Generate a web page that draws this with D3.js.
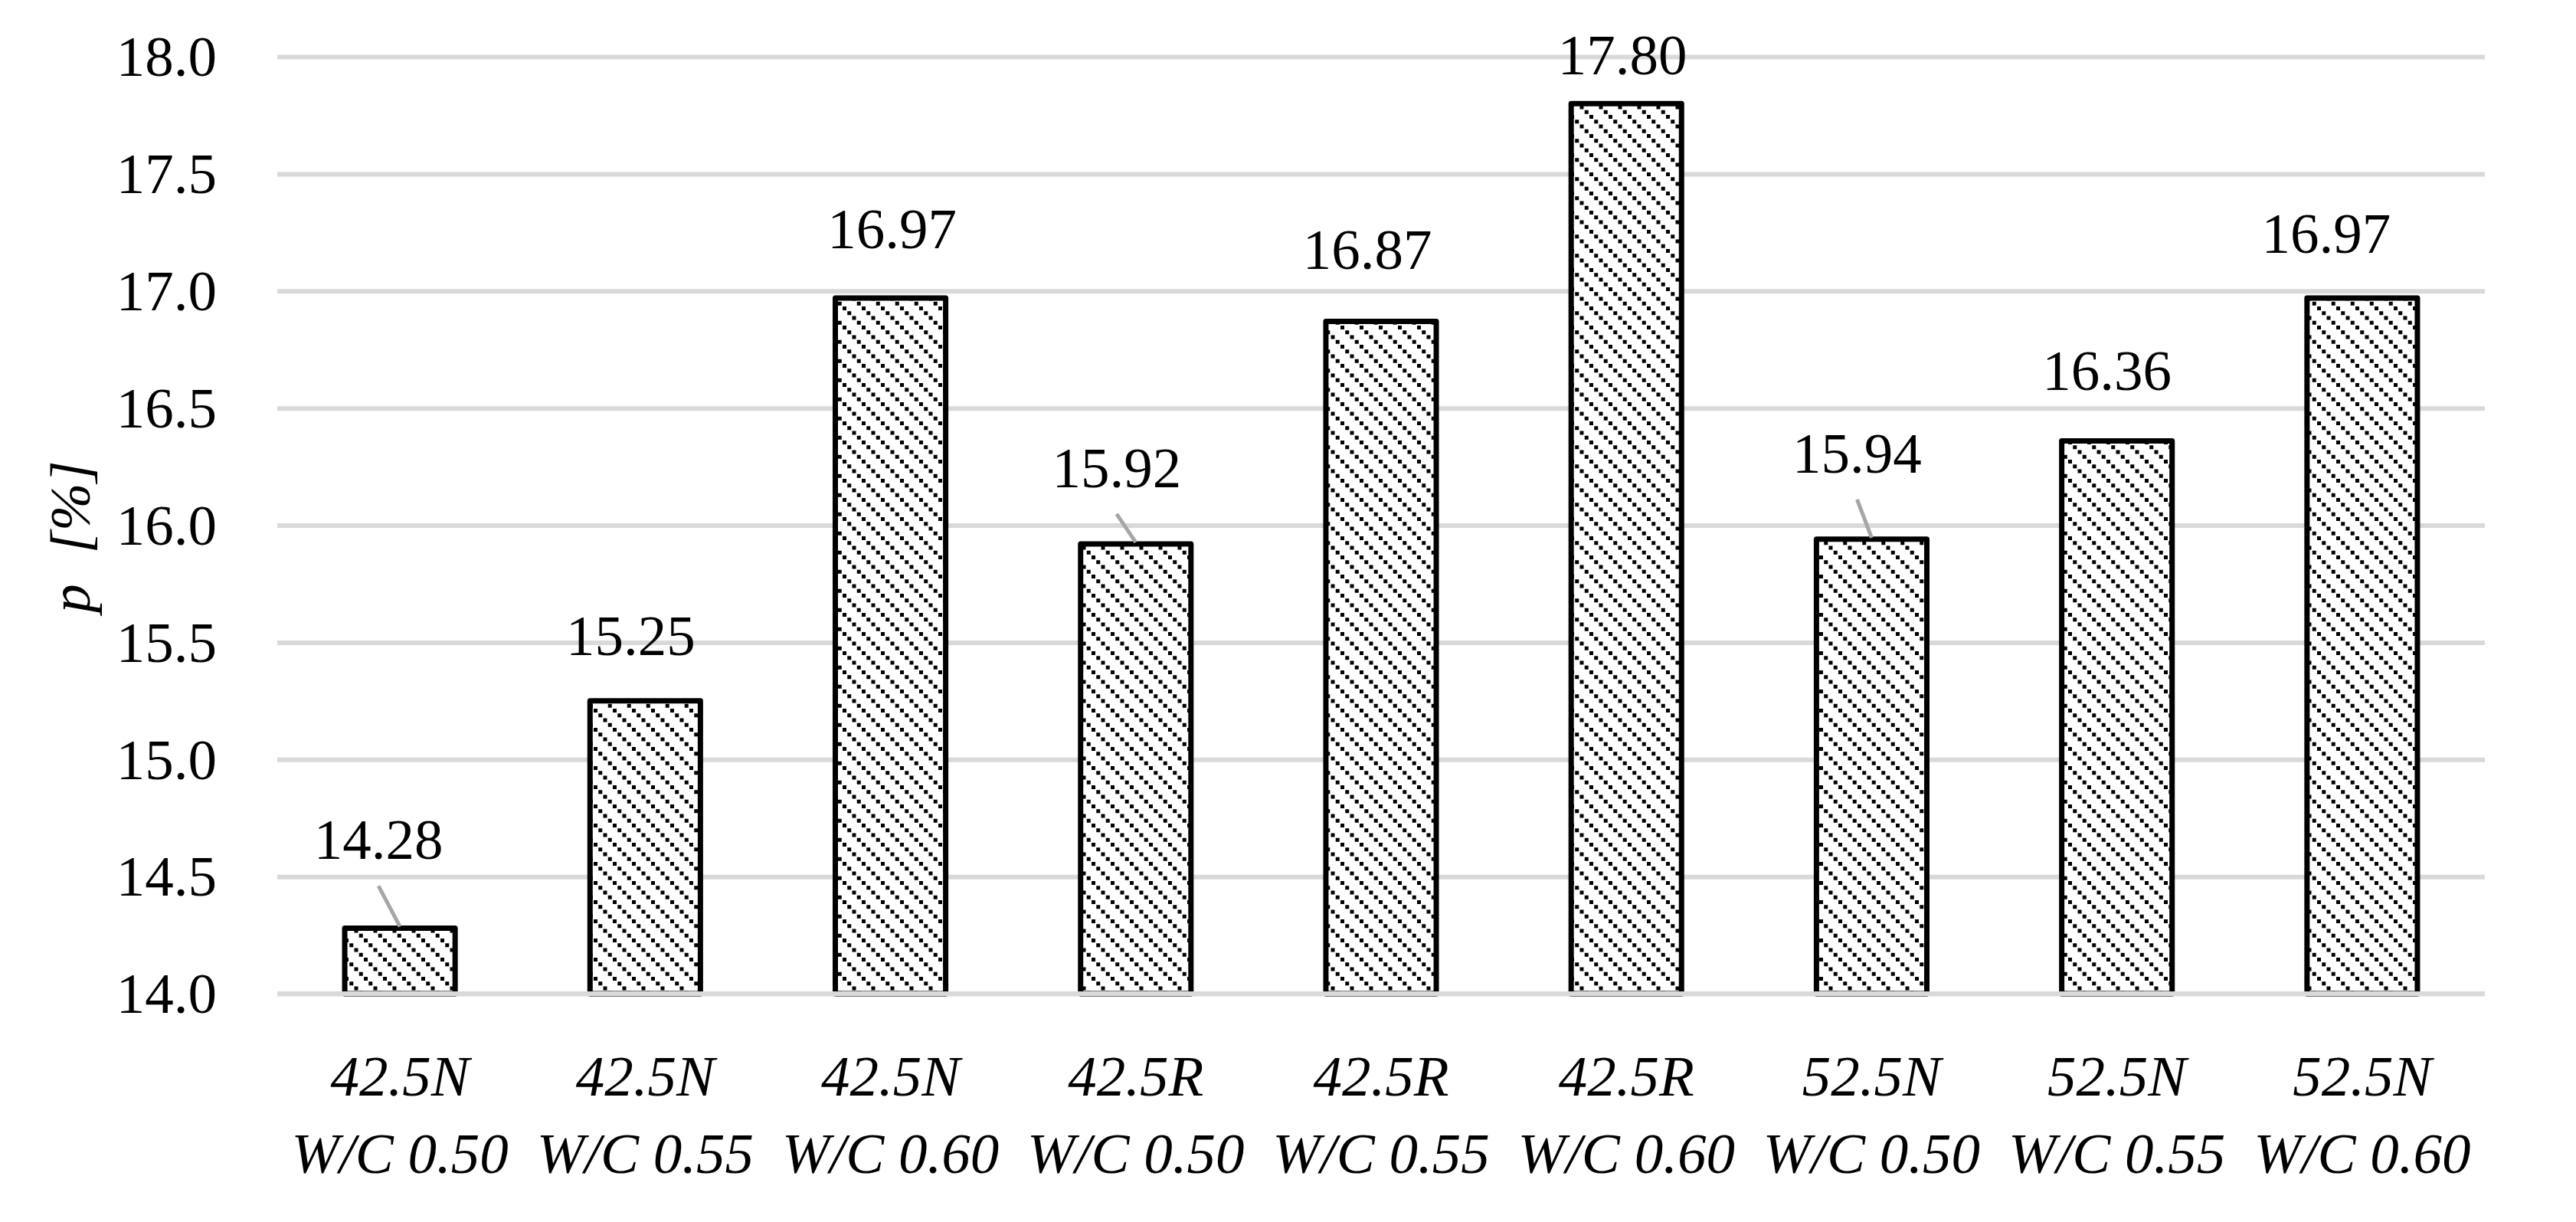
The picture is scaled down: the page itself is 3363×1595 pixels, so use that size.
<!DOCTYPE html>
<html><head><meta charset="utf-8">
<script src="https://cdn.jsdelivr.net/npm/d3@7"></script>
<style>
html,body{margin:0;padding:0;background:#fff;}
svg{display:block;}
text{font-family:"Liberation Serif","Times New Roman",serif;fill:#000;}
</style>
</head><body>
<svg id="chart" width="3363" height="1595"></svg>
<script>
// ---- data ----
const cementClasses = ["42.5N","42.5N","42.5N","42.5R","42.5R","42.5R","52.5N","52.5N","52.5N"];
const wcRatios = ["W/C 0.50","W/C 0.55","W/C 0.60","W/C 0.50","W/C 0.55","W/C 0.60","W/C 0.50","W/C 0.55","W/C 0.60"];
const porosity = [14.28,15.25,16.97,15.92,16.87,17.80,15.94,16.36,16.97];
const yTicks = [14.0,14.5,15.0,15.5,16.0,16.5,17.0,17.5,18.0];
const yTitle = ["p","[%]"];
// manual label nudges (px) relative to default centred position
const labelShift = [[-28,-32],[-19,-2],[2,-7],[-25,-16],[-18,-10],[-5,20],[-19,-29],[-13,-8],[-47,-1]];

// ---- layout ----
const plotL = 362, plotR = 3244, plotT = 74, plotB = 1297;
const fs = 75;
const categories = cementClasses.map((c,i)=>c+" "+wcRatios[i]);

const svg = d3.select("#chart");
const x = d3.scaleBand().domain(categories).range([plotL,plotR]).paddingInner(0.55).paddingOuter(0.275);
const y = d3.scaleLinear().domain([14,18]).range([plotB,plotT]);

// pattern: wide downward diagonal dotted hatch
const defs = svg.append("defs");
const pat = defs.append("pattern").attr("id","hatch").attr("patternUnits","userSpaceOnUse")
  .attr("width",25).attr("height",25);
pat.append("rect").attr("width",25).attr("height",25).attr("fill","#fff");
d3.range(4).forEach(k=>{
  pat.append("rect").attr("x",k*6.25).attr("y",k*6.25).attr("width",5).attr("height",5).attr("fill","#000");
});

// gridlines + y tick labels
const yAxis = d3.axisLeft(y).tickValues(yTicks).tickFormat(d3.format(".1f"))
  .tickSize(-(plotR-plotL)).tickPadding(79);
const gy = svg.append("g").attr("transform",`translate(${plotL},0)`).call(yAxis);
gy.select(".domain").remove();
gy.selectAll(".tick line").attr("stroke","#D9D9D9").attr("stroke-width",6);
gy.selectAll(".tick text").attr("font-size",fs).attr("font-family",'"Liberation Serif","Times New Roman",serif')
  .attr("fill","#000").attr("dy","0.33em");

// bars
svg.append("g").selectAll("rect").data(porosity).join("rect")
  .attr("x",(d,i)=>x(categories[i]))
  .attr("y",d=>y(d))
  .attr("width",x.bandwidth())
  .attr("height",d=>y(14)-y(d))
  .attr("fill","url(#hatch)")
  .attr("stroke","#000").attr("stroke-width",7).attr("stroke-linejoin","round");

// horizontal axis line on top of bars
svg.append("line").attr("x1",plotL).attr("x2",plotR).attr("y1",y(14)).attr("y2",y(14))
  .attr("stroke","#D9D9D9").attr("stroke-width",6);

// data labels and leader lines
const lab = porosity.map((v,i)=>{
  const cx = x(categories[i]) + x.bandwidth()/2;
  const topY = y(v);
  const lx = cx + labelShift[i][0];
  const ly = topY - 58 + labelShift[i][1];
  return {v, cx, topY, lx, ly};
});
svg.append("g").selectAll("line").data(lab.filter(d=> (d.topY - (d.ly+35)) > 38)).join("line")
  .attr("x1",d=>d.lx).attr("y1",d=>d.ly+35)
  .attr("x2",d=>d.cx).attr("y2",d=>d.topY-2)
  .attr("stroke","#A6A6A6").attr("stroke-width",5);
svg.append("g").selectAll("text").data(lab).join("text")
  .attr("x",d=>d.lx).attr("y",d=>d.ly)
  .attr("text-anchor","middle").attr("font-size",fs)
  .text(d=>d.v.toFixed(2));

// x category labels (two lines, italic)
const gx = svg.append("g");
categories.forEach((c,i)=>{
  const cx = x(c) + x.bandwidth()/2;
  gx.append("text").attr("x",cx).attr("y",1430).attr("text-anchor","middle")
    .attr("font-size",fs).attr("font-style","italic").text(cementClasses[i]);
  gx.append("text").attr("x",cx).attr("y",1531).attr("text-anchor","middle")
    .attr("font-size",fs).attr("font-style","italic").text(wcRatios[i]);
});

// y title
const t = svg.append("text").attr("transform",`translate(117,${(plotT+plotB)/2+15}) rotate(-90)`)
  .attr("text-anchor","middle").attr("font-size",fs).attr("font-style","italic");
t.append("tspan").text(yTitle[0]);
t.append("tspan").attr("dx",40).text(yTitle[1]);
</script>
</body></html>
